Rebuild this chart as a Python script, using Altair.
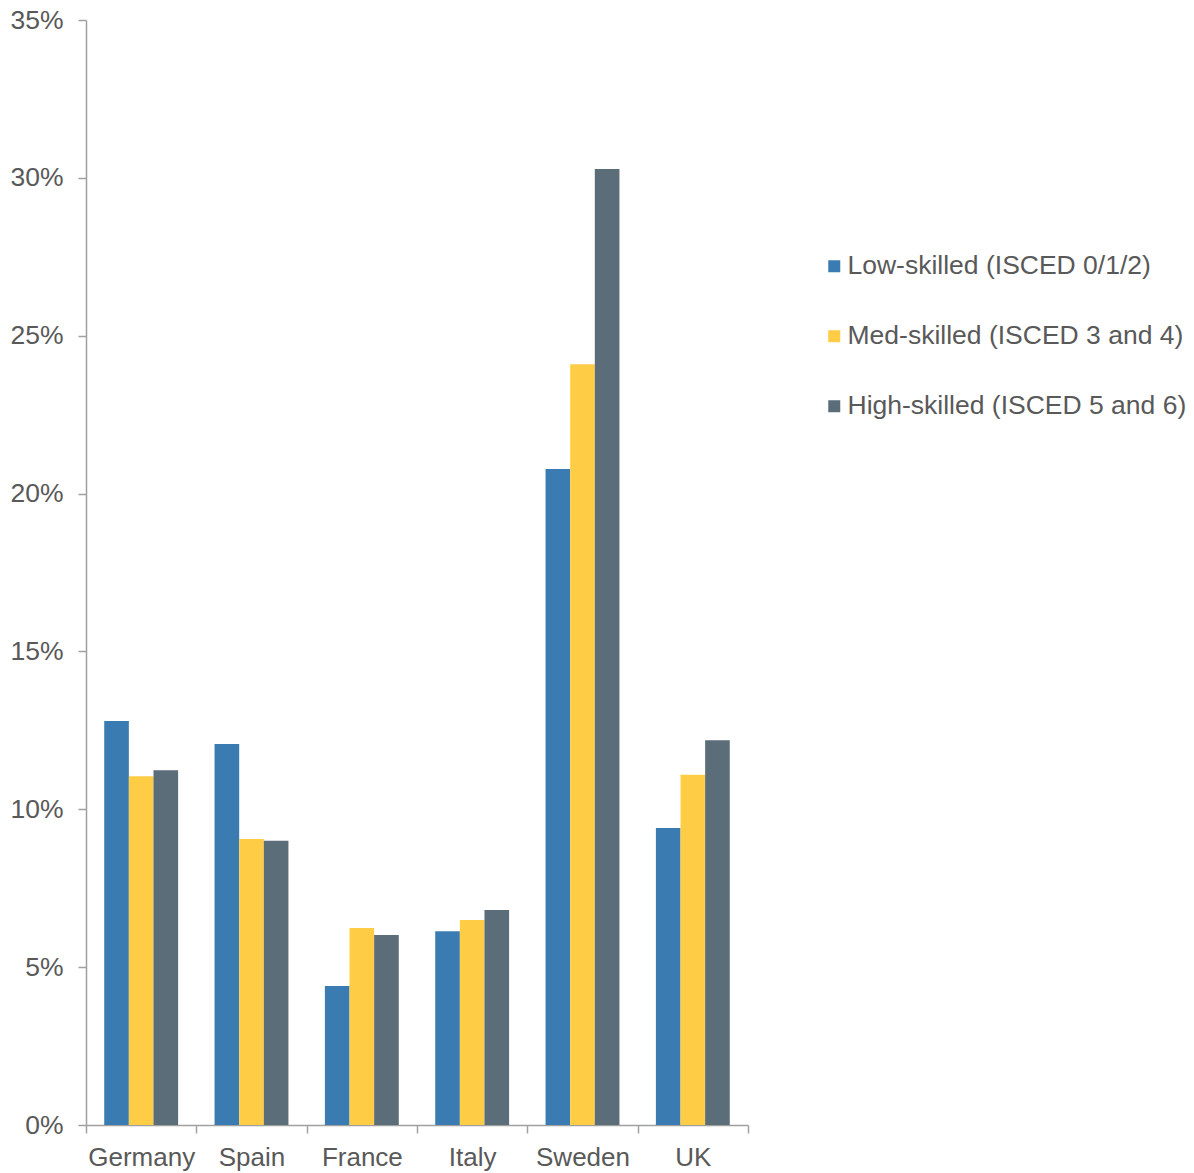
import altair as alt
import pandas as pd

countries = ["Germany", "Spain", "France", "Italy", "Sweden", "UK"]
series = [
    "Low-skilled (ISCED 0/1/2)",
    "Med-skilled (ISCED 3 and 4)",
    "High-skilled (ISCED 5 and 6)",
]
low_skilled = [0.128, 0.1207, 0.044, 0.0614, 0.2078, 0.0941]
med_skilled = [0.1105, 0.0906, 0.0624, 0.0649, 0.241, 0.1109]
high_skilled = [0.1124, 0.090, 0.0602, 0.0681, 0.3028, 0.1219]
colors = ["#3a7cb1", "#fecd45", "#5b6d78"]

rows = []
for name, vals in zip(series, [low_skilled, med_skilled, high_skilled]):
    for c, v in zip(countries, vals):
        rows.append({"country": c, "group": name, "share": v})
df = pd.DataFrame(rows)

text_color = "#595959"
axis_color = "#a0a0a0"
font = "Liberation Sans"

bars = alt.Chart(df).mark_bar().encode(
    x=alt.X(
        "country:N",
        sort=countries,
        title=None,
        scale=alt.Scale(paddingInner=0, paddingOuter=0),
        axis=alt.Axis(
            labelAngle=0,
            tickBand="extent",
            tickSize=8,
            labelPadding=11,
            labelFontSize=26,
        ),
    ),
    xOffset=alt.XOffset(
        "group:N", sort=series, scale=alt.Scale(paddingInner=0, paddingOuter=0.74)
    ),
    y=alt.Y(
        "share:Q",
        title=None,
        scale=alt.Scale(domain=[0, 0.35], nice=False),
        axis=alt.Axis(
            values=[0, 0.05, 0.1, 0.15, 0.2, 0.25, 0.3, 0.35],
            format=".0%",
            tickSize=8,
            labelPadding=15,
            labelFontSize=26.5,
            grid=False,
        ),
    ),
    color=alt.Color(
        "group:N",
        sort=series,
        scale=alt.Scale(domain=series, range=colors),
        legend=alt.Legend(
            title=None,
            orient="none",
            legendX=735,
            legendY=233,
            symbolType="square",
            symbolSize=144,
            symbolStrokeWidth=0,
            labelFontSize=26.5,
            labelOffset=0,
            rowPadding=43,
            labelLimit=400,
        ),
    ),
)

chart = bars.properties(
    width=662,
    height=1105,
    autosize=alt.AutoSizeParams(type="none"),
    padding={"left": 86, "top": 20, "right": 446, "bottom": 48},
).configure(
    font=font,
).configure_view(
    stroke=None,
).configure_axis(
    domainColor=axis_color,
    tickColor=axis_color,
    domainWidth=1.5,
    tickWidth=1.5,
    labelColor=text_color,
    labelFont=font,
).configure_legend(
    labelColor=text_color,
    labelFont=font,
)

chart.save("out.html", embed_options={"renderer": "svg", "actions": False})
